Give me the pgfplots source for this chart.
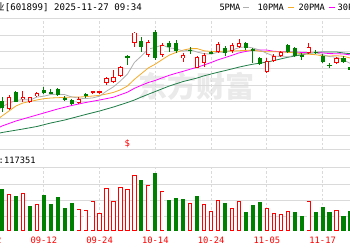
\documentclass[border=0pt]{standalone}
\usepackage{pgfplots}
\usepackage{pgfplotstable}
\pgfplotsset{compat=1.18}
\usepackage{fontspec}
\newfontfamily\mono{DejaVu Sans Mono}
\newfontfamily\cjk{Noto Sans CJK SC}
\definecolor{kred}{RGB}{255,0,0}
\definecolor{kgreen}{RGB}{0,128,0}
\definecolor{mafivec}{RGB}{175,175,175}
\definecolor{matenc}{RGB}{245,170,40}
\definecolor{matwentyc}{RGB}{255,0,255}
\definecolor{mathirtyc}{RGB}{30,125,70}
\definecolor{gridc}{RGB}{218,218,218}
\definecolor{borderc}{RGB}{195,195,195}
\definecolor{wmark}{RGB}{234,234,234}

% candles: x hi lo bodytop bodybottom
\pgfplotstableread{
x hi lo bt bb
1 154.7 140 152.7 140.7
3 159 148.3 153.3 151.3
4 153.3 147.3 152.7 148.3
5 158 153.3 157.3 153.7
11 152.7 146 151.3 146.7
13 159.3 156 158.7 157.3
14 159 156.3 159 158
15 173.3 165 171.7 166.7
16 180 166.7 172.7 167.7
17 184 173.3 183.3 174
19 218.5 203 217.5 207
21 210 193 207.7 195
23 207.3 192.7 205 195
26 197.3 188 195.3 191.7
28 194 181.7 193 182.3
29 197.3 183.3 195 186.7
31 208.3 197.3 205.7 198.3
33 206.7 197.3 205 199.3
34 210.7 201.7 207.3 203.3
38 191.7 177.3 189 178.3
39 195.7 188.3 194 189
40 199 193.3 198.3 194.3
44 207 195.7 203 196.7
48 193.3 185.7 191.7 186.7
}\redk
\pgfplotstableread{
x hi lo bt bb
0 152.7 138.3 149 142.3
2 159 147.7 157.7 148.3
6 163.3 156 160 157.3
7 160.7 156 158 156.7
8 161.7 154 160.7 155
9 153.7 149.3 151.7 150.7
10 151.3 144.7 150 146
12 157.3 151.7 156 154
18 195 185 194 193
20 213.3 198.3 209.3 203.3
22 220.5 190 217.7 191.7
24 209.3 198.3 206.7 202.7
25 210 196.7 206.7 199.3
27 203.3 195.7 200.3 199
30 199 196 198 197
32 204 194 201.7 196.7
35 208 200 206.7 201.7
36 201.7 186.7 201 199.5
37 193.3 185 191.7 186
41 206 197.3 204.7 198.3
42 203.3 193.3 202 194
43 197.3 190.3 195 194
45 200 195.7 198.3 197.3
46 195.7 186.7 193.7 188.3
47 187.3 182 185.3 184.3
49 194 187.3 192.3 188.3
50 185 179 183.3 180
}\greenk
\pgfplotstableread{
x m
-0.3 141.5
0 143
1 147
2 149.5
3 150.5
4 149.9
5 152.9
6 153.8
7 155.5
8 155.8
9 155.4
10 153.1
11 151.9
12 151.4
13 152.1
14 153.8
15 158.9
16 163.2
17 169.1
18 175.9
19 187.6
20 194.0
21 201.0
22 202.6
23 205.0
24 202.1
25 201.3
26 198.8
27 200.3
28 197.9
29 196.3
30 195.9
31 197.9
32 197.5
33 199.9
34 202.3
35 203.3
36 202.0
37 199.9
38 196.7
39 194.0
40 193.4
41 193.1
42 194.7
43 195.7
44 197.5
45 197.3
46 195.3
47 193.4
48 192.9
49 190.0
50 186.5
}\mafive
\pgfplotstableread{
x m
-0.3 132.5
0 134
1 139
2 144
3 147
4 148.5
5 150
6 151.3
7 152
8 152.3
9 152.6
10 153.0
11 152.9
12 153.4
13 154.0
14 154.6
15 156.0
16 157.6
17 160.2
18 164.0
19 170.7
20 176.4
21 182.1
22 185.9
23 190.5
24 194.9
25 197.6
26 199.9
27 201.4
28 201.4
29 199.2
30 198.6
31 198.4
32 198.9
33 198.9
34 199.3
35 199.6
36 200.0
37 198.7
38 198.3
39 198.2
40 198.3
41 197.6
42 197.3
43 196.2
44 195.8
45 195.3
46 194.2
47 194.0
48 194.3
49 193.7
50 191.9
}\maten
\pgfplotstableread{
x m
-0.3 123
0 124
2 129
4 133
6 137
8 141
10 144.5
12 147.5
14 150
16 152.8
17 155.3
18 157.8
19 161.7
20 164.7
21 167.5
22 169.6
23 172.2
24 174.7
25 176.8
26 178.7
27 180.8
28 182.7
29 185.0
30 187.5
31 190.2
32 192.4
33 194.7
34 197.1
35 198.6
36 199.9
37 200.1
38 199.9
39 198.7
40 198.4
41 198.0
42 198.1
43 197.5
44 197.6
45 197.5
46 197.1
47 196.4
48 196.3
49 196.0
50 195.1
}\matwenty
\pgfplotstableread{
x m
-0.3 117
0 117.5
3 121
5 123.5
7 127
9 130
12 135.5
14 139
16 143
18 147.5
19 150
20 153
22 158.5
24 164
26 168.5
28 172
29 174.2
30 176.0
31 177.8
32 179.4
33 181.1
34 182.9
35 184.4
36 185.8
37 186.8
38 187.9
39 189.4
40 191.1
41 192.7
42 194.0
43 195.2
44 196.7
45 197.5
46 198.0
47 198.1
48 198.0
49 197.0
50 196.3
}\mathirty
\pgfplotstableread{
x v
1 37.3
3 38
5 27.3
11 22
12 21
13 30
14 18.3
15 43
16 30
17 43.7
18 41.7
19 55.7
21 45.7
23 40
27 28.3
29 26.7
30 20
31 31
33 22.7
34 30
38 23
39 18
40 16.7
41 20
44 30
48 21
}\redv
\pgfplotstableread{
x v
0 41.7
2 35
4 24.7
6 35.7
7 26.7
8 33.7
9 22.7
10 28.3
20 51
22 58.3
24 31.3
25 32.7
26 32
28 35
32 28.3
35 19.3
36 25.7
37 29.3
42 18.7
43 14.7
45 18.7
46 23.7
47 18.7
49 14.7
50 20
}\greenv

\pgfplotsset{
  kpanel/.style={scale only axis, width=350pt, xmin=-0.287, xmax=49.93, clip=false,
    axis line style={draw=none},
    tick style={draw=none}, major tick length=0pt,
    xtick={6,14,22,30,38,46}, xticklabels={}, xmajorgrids,
    major grid style={gridc, line width=0.8pt, dash pattern=on 2.5pt off 2pt},
    ytick=\empty, yticklabels={},
    extra y tick labels={},
    extra y tick style={grid=major, major grid style={gridc, line width=0.8pt, solid}},
  },
  wick/.style={draw=none, mark=none, forget plot,
    error bars/.cd, y dir=both, y explicit, error mark=none,
    error bar style={draw=#1, line width=0.9pt}},
  body/.style={draw=none, mark=none, forget plot,
    error bars/.cd, y dir=both, y explicit, error mark=none,
    error bar style={draw=#1, line width=4.2pt}},
  inner/.style={draw=none, mark=none, forget plot,
    error bars/.cd, y dir=both, y explicit, error mark=none,
    error bar style={draw=white, line width=2.4pt}},
}

\begin{document}
\begin{tikzpicture}[x=1pt,y=1pt]
\begin{scope}
\clip (0,0) rectangle (350,250);
\fill[white] (0,0) rectangle (350,250);

% watermark
\node[inner sep=0, text=wmark, font=\cjk\bfseries\fontsize{29}{30}\selectfont] at (196,164) {东方财富};

% header
\node[anchor=base east, inner sep=0, font=\cjk\fontsize{9.5}{11}\selectfont] at (4.8,239.5) {紫金矿业};
\node[anchor=base west, inner sep=0, font=\mono\fontsize{9.1}{11}\selectfont] at (4.6,239.5) {[601899] 2025-11-27 09:34};
\node[anchor=base west, inner sep=0, font=\mono\fontsize{8.7}{10}\selectfont] at (219.3,239.5) {5PMA};
\fill[mafivec] (243,241.8) rectangle (249,243.4);
\node[anchor=base west, inner sep=0, font=\mono\fontsize{8.7}{10}\selectfont] at (257.5,239.5) {10PMA};
\fill[matenc] (288,241.8) rectangle (294,243.4);
\node[anchor=base west, inner sep=0, font=\mono\fontsize{8.7}{10}\selectfont] at (298.5,239.5) {20PMA};
\fill[matwentyc] (329,241.8) rectangle (335,243.4);
\node[anchor=base west, inner sep=0, font=\mono\fontsize{8.7}{10}\selectfont] at (337.5,239.5) {30PMA};

% volume caption
\node[anchor=base east, inner sep=0, font=\mono\fontsize{8.7}{10}\selectfont] at (4,87) {\cjk 成交量\mono:};
\node[anchor=base west, inner sep=0, font=\mono\fontsize{8.7}{10}\selectfont] at (4,87) {117351};

% ---------------- price panel ----------------
\begin{axis}[kpanel, at={(0,100.5)}, height=131.2pt,
  ymin=100.5, ymax=231.7,
  extra y ticks={100.5,115,131.7,148.3,165,181.7,198.3,215,231.7},
]
\addplot[mathirtyc, line width=0.8pt, mark=none] table[x=x,y=m] \mathirty;
\addplot[matwentyc, line width=0.8pt, mark=none] table[x=x,y=m] \matwenty;
\addplot[matenc, line width=0.8pt, mark=none] table[x=x,y=m] \maten;
\addplot[mafivec, line width=0.8pt, mark=none] table[x=x,y=m] \mafive;

\addplot[wick=kred] table[x=x, y expr={(\thisrow{hi}+\thisrow{lo})/2}, y error expr={(\thisrow{hi}-\thisrow{lo})/2}] \redk;
\addplot[body=kred] table[x=x, y expr={(\thisrow{bt}+\thisrow{bb})/2}, y error expr={(\thisrow{bt}-\thisrow{bb})/2}] \redk;
\addplot[inner] table[x=x, y expr={(\thisrow{bt}+\thisrow{bb})/2}, y error expr={max((\thisrow{bt}-\thisrow{bb})/2-0.9,0)}] \redk;

\addplot[wick=kgreen] table[x=x, y expr={(\thisrow{hi}+\thisrow{lo})/2}, y error expr={(\thisrow{hi}-\thisrow{lo})/2}] \greenk;
\addplot[body=kgreen] table[x=x, y expr={(\thisrow{bt}+\thisrow{bb})/2}, y error expr={(\thisrow{bt}-\thisrow{bb})/2}] \greenk;

\node[text=kred, font=\mono\fontsize{9}{10}\selectfont, inner sep=0] at (axis cs:18,106.5) {\$};
\end{axis}

% ---------------- volume panel (its value 0 sits 19pt above the page foot) ----------------
\begin{axis}[kpanel, at={(0,0)}, height=83pt,
  ymin=-19, ymax=64,
  extra y ticks={0,15,31,47,64},
]
\addplot[body=kred] table[x=x, y expr={\thisrow{v}/2}, y error expr={\thisrow{v}/2}] \redv;
\addplot[inner] table[x=x, y expr={\thisrow{v}/2}, y error expr={\thisrow{v}/2-0.9}] \redv;
\addplot[body=kgreen] table[x=x, y expr={\thisrow{v}/2}, y error expr={\thisrow{v}/2}] \greenv;
\end{axis}

% white strip under the volume panel, then the date labels
\fill[white] (0,0) rectangle (350,18.55);
\foreach \xx/\lab in {-11.94/09-02, 43.82/09-12, 99.58/09-24, 155.34/10-14, 211.10/10-24, 266.85/11-05, 322.61/11-17}{
  \node[text=kred, anchor=base, inner sep=0, font=\mono\fontsize{8.8}{10}\selectfont] at (\xx,6.5) {\lab};
}
\end{scope}
\pgfresetboundingbox
\path (0,0) rectangle (350,250);
\end{tikzpicture}
\end{document}
